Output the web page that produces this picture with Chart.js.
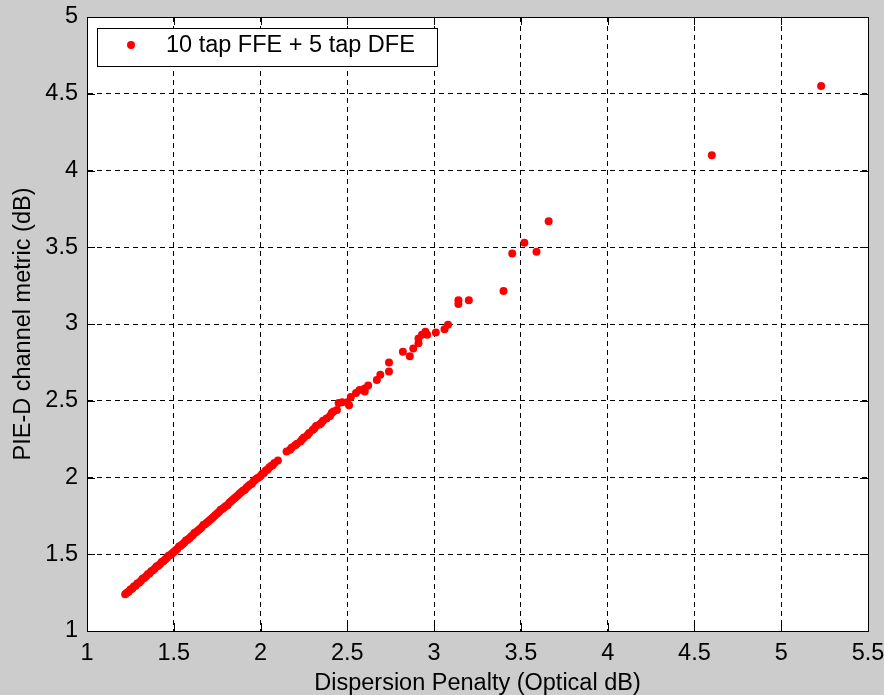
<!DOCTYPE html>
<html>
<head>
<meta charset="utf-8">
<script src="https://cdn.jsdelivr.net/npm/chart.js@4.4.1/dist/chart.umd.min.js"></script>
<style>
  html, body { margin: 0; padding: 0; background: #cccccc; }
  canvas { display: block; }
</style>
</head>
<body>
<canvas id="grafica" width="884" height="695"></canvas>
<script>
// datos (penalizacion de dispersion vs metrica PIE-D)
const serieNombre = '10 tap FFE + 5 tap DFE';
const penalizacion = [
  1.22, 1.23, 1.24, 1.25, 1.26, 1.27, 1.28, 1.29, 1.30, 1.31,
  1.32, 1.33, 1.34, 1.35, 1.36, 1.37, 1.38, 1.39, 1.40, 1.41,
  1.42, 1.43, 1.44, 1.45, 1.46, 1.47, 1.48, 1.49, 1.50, 1.51,
  1.52, 1.53, 1.54, 1.55, 1.56, 1.57, 1.58, 1.59, 1.60, 1.61,
  1.62, 1.63, 1.64, 1.65, 1.66, 1.67, 1.68, 1.69, 1.70, 1.71,
  1.72, 1.73, 1.74, 1.75, 1.76, 1.77, 1.78, 1.79, 1.80, 1.81,
  1.82, 1.83, 1.84, 1.85, 1.86, 1.87, 1.88, 1.89, 1.90, 1.91,
  1.92, 1.93, 1.94, 1.95, 1.96, 1.97, 1.98, 1.99, 2.00, 2.01,
  2.02, 2.03, 2.04, 2.05, 2.06, 2.07, 2.08, 2.10,
  2.15, 2.17, 2.18, 2.20, 2.21, 2.23, 2.24, 2.25, 2.27, 2.28,
  2.30, 2.31, 2.32, 2.34, 2.35, 2.36, 2.38, 2.40, 2.41, 2.42,
  2.44, 2.45, 2.47, 2.50, 2.51, 2.52, 2.55, 2.57, 2.60, 2.60,
  2.62, 2.67, 2.69, 2.74, 2.74, 2.82, 2.86, 2.88, 2.91, 2.91,
  2.93, 2.95, 2.96, 3.01, 3.06, 3.08, 3.14, 3.14, 3.20, 3.40,
  3.45, 3.52, 3.59, 3.66, 4.60, 5.23
];
const metrica = [
  1.240, 1.250, 1.255, 1.270, 1.275, 1.290, 1.295, 1.310, 1.315, 1.325,
  1.340, 1.345, 1.355, 1.370, 1.375, 1.390, 1.395, 1.405, 1.420, 1.425,
  1.435, 1.450, 1.455, 1.465, 1.475, 1.490, 1.495, 1.505, 1.515, 1.525,
  1.535, 1.550, 1.555, 1.565, 1.575, 1.590, 1.595, 1.605, 1.615, 1.625,
  1.640, 1.645, 1.655, 1.665, 1.675, 1.690, 1.695, 1.705, 1.715, 1.725,
  1.735, 1.745, 1.755, 1.765, 1.775, 1.790, 1.795, 1.805, 1.815, 1.820,
  1.835, 1.845, 1.855, 1.865, 1.875, 1.885, 1.895, 1.905, 1.915, 1.920,
  1.935, 1.945, 1.955, 1.960, 1.975, 1.985, 1.995, 2.000, 2.010, 2.025,
  2.030, 2.045, 2.050, 2.065, 2.075, 2.080, 2.095, 2.110,
  2.170, 2.180, 2.195, 2.210, 2.220, 2.235, 2.250, 2.260, 2.275, 2.290,
  2.310, 2.320, 2.335, 2.345, 2.355, 2.370, 2.385, 2.400, 2.420, 2.430,
  2.440, 2.485, 2.490, 2.490, 2.470, 2.525, 2.550, 2.570, 2.560, 2.580,
  2.600, 2.635, 2.670, 2.690, 2.750, 2.820, 2.790, 2.840, 2.875, 2.905,
  2.930, 2.950, 2.930, 2.945, 2.965, 2.995, 3.130, 3.155, 3.155, 3.215,
  3.460, 3.530, 3.470, 3.670, 4.100, 4.550
];
const xMin = 1, xMax = 5.5, yMin = 1, yMax = 5, paso = 0.5;

const puntos = penalizacion.map((v, i) => ({ x: v, y: metrica[i] }));

const fuente = { family: '"Liberation Sans", Arial, sans-serif', size: 23.5 };

// fondo gris de la figura y area blanca de los ejes
const fondoPlugin = {
  id: 'fondo',
  beforeDraw(chart) {
    const { ctx, chartArea: a } = chart;
    ctx.save();
    ctx.fillStyle = '#cccccc';
    ctx.fillRect(0, 0, chart.width, chart.height);
    ctx.fillStyle = '#ffffff';
    ctx.fillRect(a.left, a.top, a.right - a.left, a.bottom - a.top);
    ctx.restore();
  }
};

// marco, marcas hacia dentro y leyenda con caja (estilo matlab)
const marcoPlugin = {
  id: 'marco',
  afterDraw(chart) {
    const { ctx, chartArea: a, scales } = chart;
    const largo = 8;
    ctx.save();
    ctx.strokeStyle = '#000';
    ctx.lineWidth = 1;
    ctx.setLineDash([]);
    ctx.beginPath();
    scales.x.ticks.forEach(t => {
      const px = Math.round(scales.x.getPixelForValue(t.value)) + 0.5;
      ctx.moveTo(px, a.bottom); ctx.lineTo(px, a.bottom - largo);
      ctx.moveTo(px, a.top); ctx.lineTo(px, a.top + largo);
    });
    scales.y.ticks.forEach(t => {
      const py = Math.round(scales.y.getPixelForValue(t.value)) + 0.5;
      ctx.moveTo(a.left, py); ctx.lineTo(a.left + largo, py);
      ctx.moveTo(a.right, py); ctx.lineTo(a.right - largo, py);
    });
    ctx.stroke();
    ctx.strokeRect(Math.round(a.left) + 0.5, Math.round(a.top) + 0.5,
      Math.round(a.right - a.left), Math.round(a.bottom - a.top));

    // leyenda
    const lx = a.left + 10, ly = a.top + 11, lw = 340, lh = 38;
    ctx.fillStyle = '#fff';
    ctx.fillRect(lx, ly, lw, lh);
    ctx.strokeRect(lx + 0.5, ly + 0.5, lw, lh);
    ctx.fillStyle = chart.data.datasets[0].backgroundColor;
    ctx.beginPath();
    ctx.arc(lx + 34, ly + 17, 4, 0, Math.PI * 2);
    ctx.fill();
    ctx.fillStyle = '#000';
    ctx.font = `${fuente.size}px ${fuente.family}`;
    ctx.textBaseline = 'middle';
    ctx.fillText(chart.data.datasets[0].label, lx + 69, ly + 18);
    ctx.restore();
  }
};

const etiqueta = v => String(Math.round(v * 10) / 10);

new Chart(document.getElementById('grafica').getContext('2d'), {
  type: 'scatter',
  data: {
    datasets: [{
      label: serieNombre,
      data: puntos,
      backgroundColor: '#ff0000',
      borderWidth: 0,
      pointRadius: 4,
      pointHoverRadius: 4
    }]
  },
  options: {
    responsive: false,
    animation: false,
    layout: { padding: { top: 17, right: 16, left: 0, bottom: 0 } },
    plugins: {
      legend: { display: false },
      tooltip: { enabled: false }
    },
    scales: {
      x: {
        type: 'linear',
        min: xMin,
        max: xMax,
        afterFit: s => { s.height = 64; s.paddingLeft = 0; s.paddingRight = 0; },
        ticks: { stepSize: paso, color: '#000', font: fuente, padding: 8, callback: etiqueta, maxRotation: 0 },
        grid: { color: '#000', lineWidth: 1, drawTicks: false },
        border: { display: true, color: '#000', width: 1, dash: [5, 4] },
        title: {
          display: true,
          text: 'Dispersion Penalty (Optical dB)',
          color: '#000',
          font: { ...fuente, lineHeight: 1 },
          padding: { top: 0, bottom: 0 }
        }
      },
      y: {
        type: 'linear',
        min: yMin,
        max: yMax,
        afterFit: s => { s.width = 87; s.paddingTop = 0; s.paddingBottom = 0; },
        ticks: { stepSize: paso, color: '#000', font: fuente, padding: 9, callback: etiqueta },
        grid: { color: '#000', lineWidth: 1, drawTicks: false },
        border: { display: true, color: '#000', width: 1, dash: [5, 4] },
        title: {
          display: true,
          text: 'PIE-D channel metric (dB)',
          color: '#000',
          font: { ...fuente, lineHeight: 1 },
          padding: { top: 12, bottom: 0 }
        }
      }
    }
  },
  plugins: [fondoPlugin, marcoPlugin]
});
</script>
</body>
</html>
